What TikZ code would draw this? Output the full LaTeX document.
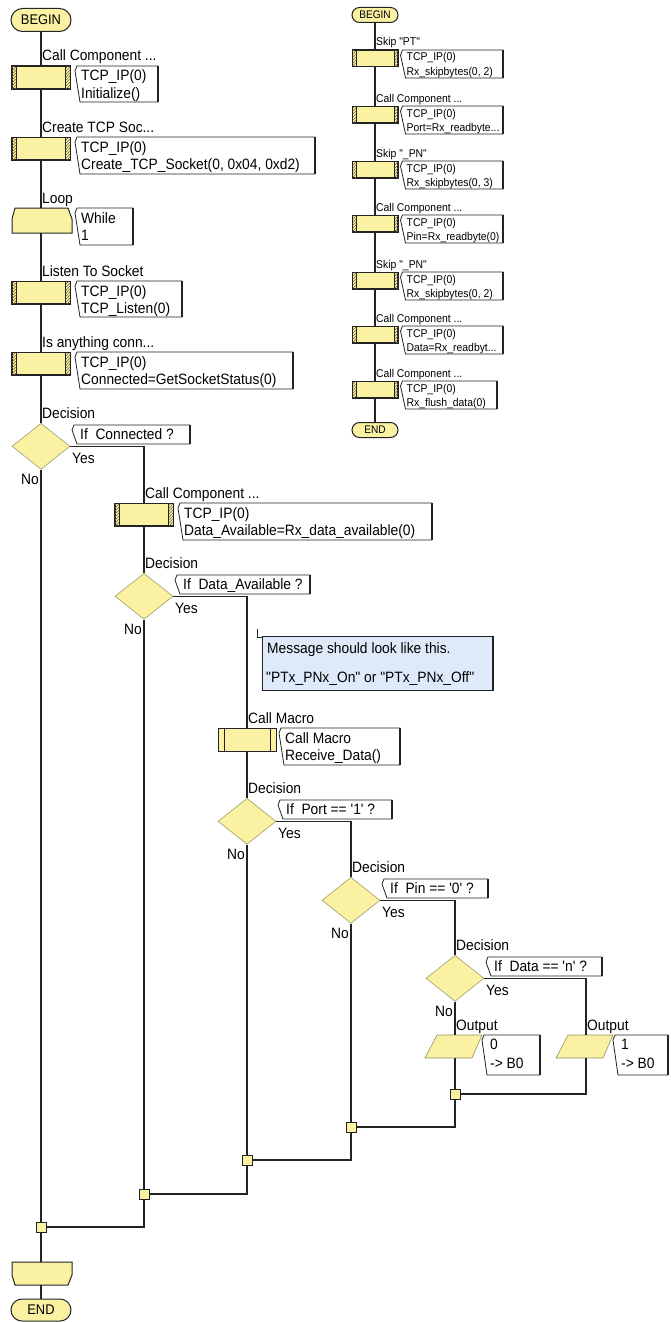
\documentclass[tikz,border=0pt]{standalone}
\usepackage{fontspec}
\newfontfamily\fcfont[FakeStretch=0.92]{Liberation Sans}
\usetikzlibrary{calc,shapes.geometric,shapes.misc,patterns}
\definecolor{fcy}{RGB}{250,241,163}
\definecolor{fcblue}{RGB}{222,234,250}
\definecolor{fchatch}{RGB}{120,100,60}
\definecolor{fcline}{RGB}{35,35,35}
\tikzset{
  fl/.style={draw=fcline, line width=1.2pt},
  term/.style={rounded rectangle, draw=fcline, fill=fcy, line width=1pt, inner sep=0pt},
  pbox/.style={rectangle, draw=fcline, fill=fcy, line width=1pt, inner sep=0pt},
  boxline/.style={draw=fcline, line width=1pt},
  hatchp/.style={pattern=north east lines, pattern color=fchatch},
  dec/.style={diamond, fill=fcy, draw=fcy!65!black, line width=0.6pt, inner sep=0pt, minimum width=58, minimum height=46},
  para/.style={fill=fcy, draw=fcy!60!black, line width=0.6pt},
  inv/.style={rectangle, draw=none, inner sep=0pt},
  jct/.style={rectangle, draw=fcline, fill=fcy, line width=0.9pt, minimum width=10, minimum height=10, inner sep=0pt},
  cmt/.style={draw=fcline, line width=0.8pt},
  cmtedge/.style={draw=fcline, line width=2.2pt},
  lbl/.style={inner sep=0pt, font=\fcfont\fontsize{\fs}{\fs}\selectfont},
}
\newcommand\fcCmt[5]{%
  \draw[cmt, fill=#5] (#1+2,#2) -- (#1,#2+5) -- (#1+5,#4) -- (#3,#4) -- (#3,#2) -- cycle;
  \draw[cmtedge] (#3,#2) -- (#3,#4);
}
\newcommand\fcProc[8]{%
  \node[pbox, minimum width=\bw, minimum height=\bh, anchor=north] (#1) at (#2,#3) {};
  \path[hatchp] (#1.north west) rectangle ($(#1.south west)+(\hw,0)$);
  \path[hatchp] (#1.north east) rectangle ($(#1.south east)+(-\hw,0)$);
  \draw[boxline] (#1.north west) rectangle (#1.south east);
  \draw[boxline] ($(#1.north west)+(\hw,0)$) -- ($(#1.south west)+(\hw,0)$);
  \draw[boxline] ($(#1.north east)+(-\hw,0)$) -- ($(#1.south east)+(-\hw,0)$);
  \node[lbl, anchor=base west] (#1l) at (#2+1,#3-\lo) {#4};
  \fcCmt{#2+\bw/2+\cg}{#3}{#7}{#8}{white}
  \node[lbl, anchor=base west] (#1a) at (#2+\bw/2+\cg+6,#3+\la) {#5};
  \node[lbl, anchor=base west] (#1b) at (#2+\bw/2+\cg+6,#3+\lb) {#6};
}
\newcommand\fcDec[5]{%
  \node[dec, anchor=north] (#1) at (#2,#3) {};
  \node[lbl, anchor=base west] (#1l) at (#2+1,#3-5) {Decision};
  \fcCmt{#2+31}{#3+2}{#5}{#3+21}{white}
  \node[lbl, anchor=base west] (#1t) at (#2+39,#3+16) {#4};
  \node[lbl, anchor=base west] (#1y) at (#2+31,#3+40) {Yes};
  \node[lbl, anchor=base east] (#1n) at (#2-2,#3+61) {No};
}
\newcommand\fcOut[5]{%
  \node[inv, minimum width=40, minimum height=23, anchor=north] (#1) at (#2,#3) {};
  \draw[para] (#2-18,#3) -- (#2+27,#3) -- (#2+17,#3+23) -- (#2-30,#3+23) -- cycle;
  \node[lbl, anchor=base west] (#1l) at (#2+1,#3-5) {Output};
  \fcCmt{#2+27}{#3}{#5}{#3+40}{white}
  \node[lbl, anchor=base west] (#1a) at (#2+35,#3+14) {#4};
  \node[lbl, anchor=base west] (#1b) at (#2+35,#3+33) {-> B0};
}
\begin{document}
\begin{tikzpicture}[x=1pt,y=-1pt]
\useasboundingbox[fill=white] (0,0) rectangle (670,1322);
% ---------------- left main flow ----------------
\def\bw{58}\def\bh{22}\def\hw{5}\def\lo{5}\def\cg{5}\def\la{15}\def\lb{32}\def\fs{15}
\node[term, minimum width=60, minimum height=23, font=\fcfont\fontsize{14}{14}\selectfont] (b1) at (41,20) {BEGIN};
\fcProc{c1}{41}{66}{Call Component ...}{TCP\_IP(0)}{Initialize()}{158}{102}
\fcProc{c2}{41}{137}{Create TCP Soc...}{TCP\_IP(0)}{Create\_TCP\_Socket(0, 0x04, 0xd2)}{315}{174}
% loop start
\node[inv, minimum width=60, minimum height=25, anchor=north] (loopA) at (41,208) {};
\draw[boxline, fill=fcy] (15,208) -- (68,208) -- (72,219) -- (72,233) -- (12,233) -- (12,219) -- cycle;
\node[lbl, anchor=base west] (loopAl) at (42,203) {Loop};
\fcCmt{75}{208}{133}{245}{white}
\node[lbl, anchor=base west] (loopAa) at (81,223) {While};
\node[lbl, anchor=base west] (loopAb) at (81,240) {1};
\fcProc{c3}{41}{281}{Listen To Socket}{TCP\_IP(0)}{TCP\_Listen(0)}{182}{317}
\fcProc{c4}{41}{352}{Is anything conn...}{TCP\_IP(0)}{Connected=GetSocketStatus(0)}{293}{389}
\fcDec{d1}{41}{423}{If\ \ Connected ?}{190}
\fcProc{c5}{144}{503}{Call Component ...}{TCP\_IP(0)}{Data\_Available=Rx\_data\_available(0)}{432}{540}
\fcDec{d2}{144}{573}{If\ \ Data\_Available ?}{310}
% note
\node[inv, minimum width=231, minimum height=54, anchor=north west] (note) at (262,636) {};
\draw[cmt, fill=fcblue] (262,636) rectangle (493,690);
\draw[cmtedge] (493,636) -- (493,690);
\draw[cmt] (257,629) -- (257,637) -- (262,637);
\node[lbl, anchor=base west] (notea) at (267,653) {Message should look like this.};
\node[lbl, anchor=base west] (noteb) at (266,682) {"PTx\_PNx\_On" or "PTx\_PNx\_Off"};
% call macro
\node[pbox, minimum width=58, minimum height=23, anchor=north] (m1) at (247,728) {};
\draw[boxline] (224,728) -- (224,751);
\draw[boxline] (270,728) -- (270,751);
\node[lbl, anchor=base west] (m1l) at (248,723) {Call Macro};
\fcCmt{279}{728}{400}{765}{white}
\node[lbl, anchor=base west] (m1a) at (285,743) {Call Macro};
\node[lbl, anchor=base west] (m1b) at (285,760) {Receive\_Data()};
\fcDec{d3}{247}{798}{If\ \ Port == '1' ?}{392}
\fcDec{d4}{351}{877}{If\ \ Pin == '0' ?}{488}
\fcDec{d5}{455}{955}{If\ \ Data == 'n' ?}{602}
\fcOut{o1}{455}{1035}{0}{540}
\fcOut{o2}{586}{1035}{1}{668}
% junctions
\node[jct] (j1) at (455,1094) {};
\node[jct] (j2) at (351,1127) {};
\node[jct] (j3) at (247,1160) {};
\node[jct] (j4) at (144,1194) {};
\node[jct] (j5) at (41,1227) {};
% loop end
\node[inv, minimum width=60, minimum height=23, anchor=north] (loopB) at (41,1262) {};
\draw[boxline, fill=fcy] (12,1262) -- (72,1262) -- (72,1275) -- (68,1285) -- (15,1285) -- (12,1275) -- cycle;
\node[term, minimum width=60, minimum height=22, font=\fcfont\fontsize{14}{14}\selectfont] (e1) at (41,1310) {END};
% connectors
\draw[fl] (b1.south) -- (c1.north);
\draw[fl] (c1.south) -- (c2.north);
\draw[fl] (c2.south) -- (loopA.north);
\draw[fl] (loopA.south) -- (c3.north);
\draw[fl] (c3.south) -- (c4.north);
\draw[fl] (c4.south) -- (d1.north);
\draw[fl] (d1.east) -| (c5.north);
\draw[fl] (c5.south) -- (d2.north);
\draw[fl] (d2.east) -| (m1.north);
\draw[fl] (m1.south) -- (d3.north);
\draw[fl] (d3.east) -| (d4.north);
\draw[fl] (d4.east) -| (d5.north);
\draw[fl] (d5.east) -| (o2.north);
\draw[fl] (d5.south) -- (o1.north);
\draw[fl] (o1.south) -- (j1.north);
\draw[fl] (o2.south) |- (j1.east);
\draw[fl] (j1.south) |- (j2.east);
\draw[fl] (d4.south) -- (j2.north);
\draw[fl] (j2.south) |- (j3.east);
\draw[fl] (d3.south) -- (j3.north);
\draw[fl] (j3.south) |- (j4.east);
\draw[fl] (d2.south) -- (j4.north);
\draw[fl] (j4.south) |- (j5.east);
\draw[fl] (d1.south) -- (j5.north);
\draw[fl] (j5.south) -- (loopB.north);
\draw[fl] (loopB.south) -- (e1.north);
% ---------------- right sub flow ----------------
\def\bw{45}\def\bh{16}\def\hw{4}\def\lo{4}\def\cg{3}\def\la{11}\def\lb{25}\def\fs{11.3}
\node[term, minimum width=46, minimum height=15, font=\fcfont\fontsize{11}{11}\selectfont] (b2) at (375,15) {BEGIN};
\fcProc{r1}{375}{50}{Skip "PT"}{TCP\_IP(0)}{Rx\_skipbytes(0, 2)}{503}{78}
\fcProc{r2}{375}{106}{Call Component ...}{TCP\_IP(0)}{Port=Rx\_readbyte...}{503}{134}
\fcProc{r3}{375}{161}{Skip "\_PN"}{TCP\_IP(0)}{Rx\_skipbytes(0, 3)}{503}{189}
\fcProc{r4}{375}{215}{Call Component ...}{TCP\_IP(0)}{Pin=Rx\_readbyte(0)}{503}{243}
\fcProc{r5}{375}{272}{Skip "\_PN"}{TCP\_IP(0)}{Rx\_skipbytes(0, 2)}{503}{300}
\fcProc{r6}{375}{326}{Call Component ...}{TCP\_IP(0)}{Data=Rx\_readbyt...}{503}{354}
\fcProc{r7}{375}{381}{Call Component ...}{TCP\_IP(0)}{Rx\_flush\_data(0)}{497}{409}
\node[term, minimum width=46, minimum height=15, font=\fcfont\fontsize{11}{11}\selectfont] (e2) at (375,430) {END};
\draw[fl] (b2.south) -- (r1.north);
\draw[fl] (r1.south) -- (r2.north);
\draw[fl] (r2.south) -- (r3.north);
\draw[fl] (r3.south) -- (r4.north);
\draw[fl] (r4.south) -- (r5.north);
\draw[fl] (r5.south) -- (r6.north);
\draw[fl] (r6.south) -- (r7.north);
\draw[fl] (r7.south) -- (e2.north);
\end{tikzpicture}
\end{document}
